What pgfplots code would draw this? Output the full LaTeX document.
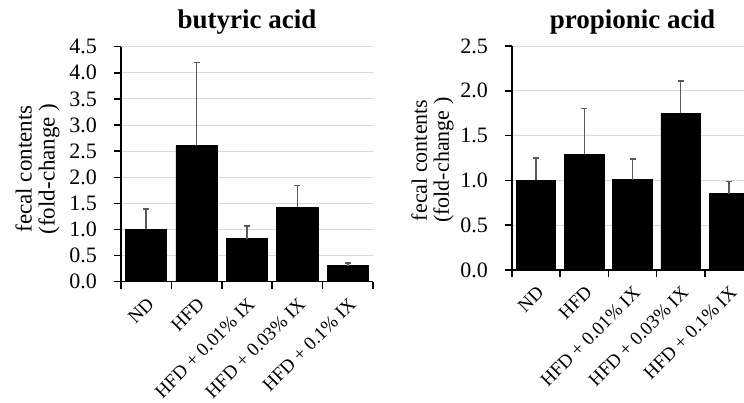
\documentclass[border=0pt]{standalone}
\usepackage{fontspec}
\setmainfont{Liberation Serif}
\usepackage{pgfplots}
\pgfplotsset{compat=1.18}
\definecolor{gridgray}{RGB}{217,217,217}
\definecolor{errgray}{RGB}{89,89,89}
\pgfplotstableread{
x y e
0 1.00 0.39
1 2.61 1.59
2 0.82 0.25
3 1.43 0.41
4 0.31 0.05
}\butyric
\pgfplotstableread{
x y e
0 1.00 0.25
1 1.29 0.51
2 1.01 0.23
3 1.75 0.36
4 0.85 0.14
}\propionic
\pgfplotsset{
  mybar/.style={
    scale only axis,
    ybar, bar width=0.82,
    xmin=-0.5, xmax=4.5, ymin=0,
    axis x line*=bottom, axis y line*=left,
    axis line style={black, line width=0.75pt},
    xtick={0,...,4},
    xticklabels={ND,HFD,HFD + 0.01\% IX,HFD + 0.03\% IX,HFD + 0.1\% IX},
    major x tick style={draw=none},
    minor xtick={-0.5,0.5,...,4.5},
    minor x tick style={black, line width=0.75pt},
    minor tick length=3.5pt,
    major tick length=3.5pt,
    y tick style={black, line width=0.75pt},
    tick align=outside,
    ymajorgrids,
    grid style={gridgray, line width=0.5pt},
    xticklabel style={xshift=0pt, yshift=1pt, rotate=45, anchor=north east, font=\fontsize{9.5}{10}\selectfont},
    yticklabel style={xshift=-5pt, font=\fontsize{11}{12}\selectfont},
    /pgf/number format/.cd, fixed, fixed zerofill, precision=1, assume math mode=true,
  },
  errb/.style={fill=black, draw=black,
    error bars/.cd, y dir=plus, y explicit,
    error bar style={errgray, line width=0.75pt},
    error mark options={rotate=90, errgray, mark size=1.5pt, line width=0.75pt}},
}
\begin{document}
\begin{tikzpicture}
\path[use as bounding box] (0,0) rectangle (372pt,-201pt);
\begin{axis}[mybar,
  at={(60.5pt,-140.85pt)}, anchor=south west,
  width=126pt, height=117.5pt,
  ymax=4.5, ytick={0,0.5,...,4.5},
  title={butyric acid},
  title style={font=\fontsize{13.5}{16}\bfseries\selectfont, at={(axis description cs:0.5,1)}, anchor=base, yshift=3.35pt},
  ylabel={fecal contents\\(fold-change )},
  ylabel style={font=\fontsize{11.5}{11.5}\selectfont, align=center, at={(axis description cs:-0.331,0.48)}, anchor=center},
]
\addplot[errb] table[x=x, y=y, y error=e] {\butyric};
\end{axis}
\begin{axis}[mybar,
  at={(256pt,-135pt)}, anchor=south west,
  width=120.5pt, height=112pt,
  ymax=2.5, ytick={0,0.5,...,2.5},
  title={propionic acid},
  title style={font=\fontsize{13.5}{16}\bfseries\selectfont, at={(axis description cs:0.5,1)}, anchor=base, yshift=3pt},
  ylabel={fecal contents\\(fold-change )},
  ylabel style={font=\fontsize{11}{11}\selectfont, align=center, at={(axis description cs:-0.33,0.49)}, anchor=center},
]
\addplot[errb] table[x=x, y=y, y error=e] {\propionic};
\end{axis}
\end{tikzpicture}
\end{document}
